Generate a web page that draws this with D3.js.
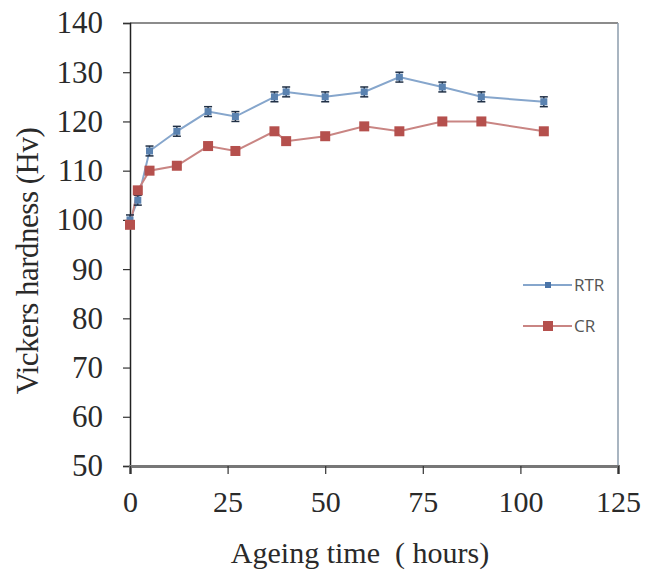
<!DOCTYPE html>
<html>
<head>
<meta charset="utf-8">
<script src="https://cdn.jsdelivr.net/npm/d3@7"></script>
<style>
  body { margin: 0; background: #fff; }
  text { font-family: "Liberation Serif", "Times New Roman", serif; }
</style>
</head>
<body>
<svg id="chart" width="648" height="573"></svg>
<script>
// ageing time (hours)
let hours = [0, 2, 5, 12, 20, 27, 37, 40, 50, 60, 69, 80, 90, 106]
// hardness values
let rtrValues = [100, 104, 114, 118, 122, 121, 125, 126, 125, 126, 129, 127, 125, 124]
let crValues  = [99, 106, 110, 111, 115, 114, 118, 116, 117, 119, 118, 120, 120, 118]
let xTicks = [0, 25, 50, 75, 100, 125]
let yTicks = [50, 60, 70, 80, 90, 100, 110, 120, 130, 140]
let seriesNames = ['RTR', 'CR']

let plotL = 130, plotR = 618, plotT = 23, plotB = 466

let svg = d3.select('svg#chart')

let x = d3.scaleLinear().domain([0, 125]).range([plotL, plotR])
let y = d3.scaleLinear().domain([50, 140]).range([plotB, plotT])

// frame: top and right lines
svg.append('line')
    .attr('x1', plotL).attr('x2', plotR).attr('y1', plotT).attr('y2', plotT)
    .attr('stroke', '#666').attr('stroke-width', 1.5)
svg.append('line')
    .attr('x1', plotR).attr('x2', plotR).attr('y1', plotT).attr('y2', plotB)
    .attr('stroke', '#8d9cad').attr('stroke-width', 1.5)

// y axis
let yAxis = svg.append('g')
    .attr('transform', `translate(${plotL},0)`)
    .call(d3.axisLeft(y).tickValues(yTicks).tickSize(7).tickPadding(20))
yAxis.select('.domain').attr('stroke', '#222').attr('stroke-width', 1.5)
yAxis.selectAll('.tick line').attr('stroke', '#333').attr('stroke-width', 1.2)
yAxis.selectAll('.tick text')
    .attr('font-size', 31).attr('fill', '#2a2a2a')
    .style('font-family', '"Liberation Serif", serif')

// x axis
let xAxis = svg.append('g')
    .attr('transform', `translate(0,${plotB})`)
    .call(d3.axisBottom(x).tickValues(xTicks).tickSize(8).tickPadding(17))
xAxis.select('.domain').attr('stroke', '#777').attr('stroke-width', 3)
xAxis.selectAll('.tick line').attr('stroke', '#333').attr('stroke-width', 1.2)
xAxis.selectAll('.tick text')
    .attr('font-size', 30).attr('fill', '#2a2a2a')
    .style('font-family', '"Liberation Serif", serif')

// axis titles
svg.append('text')
    .attr('transform', 'translate(38,261) rotate(-90)')
    .attr('text-anchor', 'middle')
    .attr('font-size', 31).attr('fill', '#2a2a2a')
    .attr('letter-spacing', -0.5)
    .text('Vickers hardness (Hv)')

svg.append('text')
    .attr('x', 360).attr('y', 563)
    .attr('text-anchor', 'middle')
    .attr('font-size', 30).attr('fill', '#2a2a2a')
    .text('Ageing time\u00a0 ( hours)')

let line = d3.line().x(d => x(d[0])).y(d => y(d[1]))
let rtr = hours.map((h, i) => [h, rtrValues[i]])
let cr = hours.map((h, i) => [h, crValues[i]])

// RTR series
svg.append('path').datum(rtr)
    .attr('d', line).attr('fill', 'none')
    .attr('stroke', '#86a6cc').attr('stroke-width', 2)

// CR series
svg.append('path').datum(cr)
    .attr('d', line).attr('fill', 'none')
    .attr('stroke', '#c98583').attr('stroke-width', 2)

let eb = 1.0
let rtrBars = svg.append('g').selectAll('g').data(rtr).enter().append('g')
rtrBars.append('line')
    .attr('x1', d => x(d[0])).attr('x2', d => x(d[0]))
    .attr('y1', d => y(d[1] - eb)).attr('y2', d => y(d[1] + eb))
    .attr('stroke', '#1f2f45').attr('stroke-width', 1.5)
rtrBars.selectAll('.cap').data(d => [[d[0], d[1] - eb], [d[0], d[1] + eb]])
    .enter().append('line')
    .attr('x1', d => x(d[0]) - 4).attr('x2', d => x(d[0]) + 4)
    .attr('y1', d => y(d[1])).attr('y2', d => y(d[1]))
    .attr('stroke', '#1f2f45').attr('stroke-width', 1.5)
rtrBars.append('rect')
    .attr('x', d => x(d[0]) - 3.5).attr('y', d => y(d[1]) - 3.5)
    .attr('width', 7).attr('height', 7)
    .attr('fill', '#5a82b0')

svg.append('g').selectAll('rect').data(cr).enter().append('rect')
    .attr('x', d => x(d[0]) - 5).attr('y', d => y(d[1]) - 5)
    .attr('width', 10).attr('height', 10)
    .attr('fill', '#b5504d')

// legend
let legend = svg.append('g').selectAll('g').data(seriesNames).enter().append('g')
    .attr('transform', (d, i) => `translate(523,${285 + i * 41})`)
legend.append('line')
    .attr('x1', 0).attr('x2', 49).attr('y1', 0).attr('y2', 0)
    .attr('stroke', (d, i) => i == 0 ? '#86a6cc' : '#c98583').attr('stroke-width', 2)
legend.append('rect')
    .attr('x', (d, i) => i == 0 ? 22 : 20).attr('y', (d, i) => i == 0 ? -3 : -5)
    .attr('width', (d, i) => i == 0 ? 6 : 10).attr('height', (d, i) => i == 0 ? 6 : 10)
    .attr('fill', (d, i) => i == 0 ? '#4a74a8' : '#b5504d')
legend.append('text')
    .attr('x', 51).attr('y', 6)
    .attr('font-size', 17).attr('fill', '#555')
    .style('font-family', '"Open Sans", "DejaVu Sans", sans-serif')
    .text(d => d)
</script>
</body>
</html>
